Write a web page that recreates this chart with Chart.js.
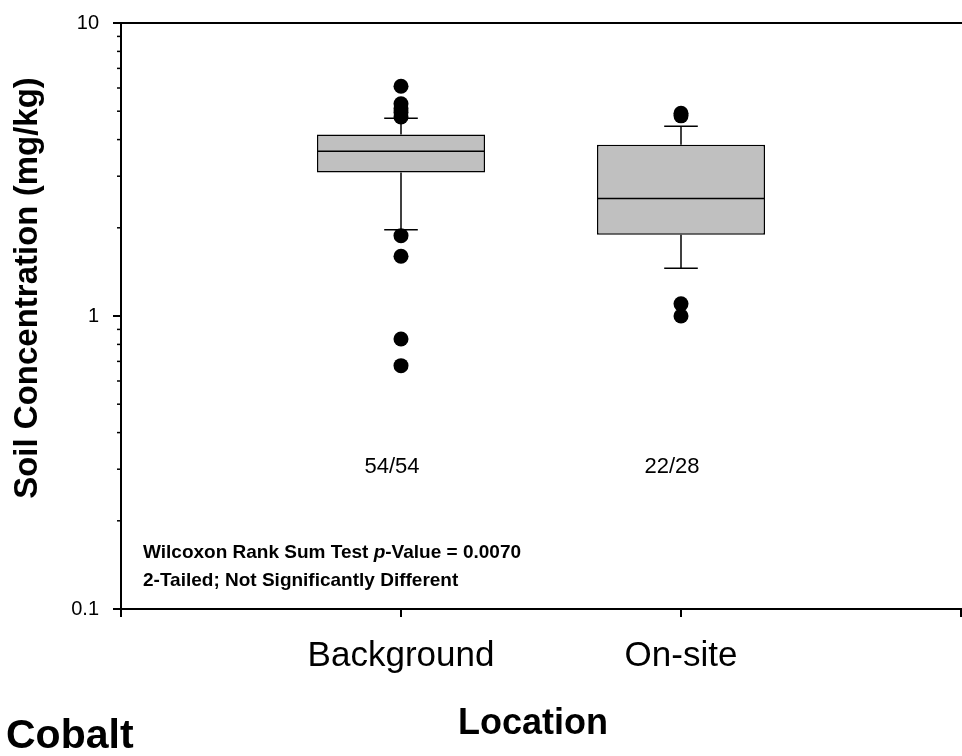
<!DOCTYPE html>
<html><head><meta charset="utf-8">
<script src="https://cdn.jsdelivr.net/npm/chart.js@4.4.1/dist/chart.umd.min.js"></script>
<style>html,body{margin:0;padding:0;background:#fff;}#wrap{width:962px;height:756px;}</style>
</head><body><div id="wrap"><canvas id="c" width="962" height="756"></canvas></div>
<script>
// ---- data ----
const categories = ['Background', 'On-site'];
const categoryX = [1, 2];
const q1 = [3.09, 1.895];
const medians = [3.65, 2.52];
const q3 = [4.16, 3.84];
const whiskerLow = [1.97, 1.454];
const whiskerHigh = [4.73, 4.44];
const outliersBackground = [6.08, 5.30, 5.10, 4.95, 4.78, 1.88, 1.60, 0.835, 0.677];
const outliersOnSite = [4.92, 4.82, 1.10, 1.00];
const detectLabels = ['54/54', '22/28'];
const yMajorTicks = [0.1, 1, 10];
const yMinorTicks = [0.2, 0.3, 0.4, 0.5, 0.6, 0.7, 0.8, 0.9, 2, 3, 4, 5, 6, 7, 8, 9];
const xTicks = [0, 1, 2, 3];
const annotationLines = [
  [{t: 'Wilcoxon Rank Sum Test ', i: false}, {t: 'p', i: true}, {t: '-Value = 0.0070', i: false}],
  [{t: '2-Tailed; Not Significantly Different', i: false}]
];

const FAM = '"Liberation Sans", Arial, sans-serif';

const outlierPoints = [];
outliersBackground.forEach(v => outlierPoints.push({x: categoryX[0], y: v}));
outliersOnSite.forEach(v => outlierPoints.push({x: categoryX[1], y: v}));

function noPad(s) { s.paddingTop = 0; s.paddingBottom = 0; s.paddingLeft = 0; s.paddingRight = 0; }

const boxPlugin = {
  id: 'boxExtras',
  beforeDatasetsDraw(chart) {
    const ctx = chart.ctx, xs = chart.scales.x, ys = chart.scales.y;
    ctx.save();
    ctx.strokeStyle = '#000';
    ctx.lineWidth = 1.5;
    categoryX.forEach((cx, i) => {
      const x = xs.getPixelForValue(cx);
      const capHalf = xs.getPixelForValue(cx + 0.06) - x;
      const lines = [
        [x, ys.getPixelForValue(q3[i]), x, ys.getPixelForValue(whiskerHigh[i])],
        [x, ys.getPixelForValue(q1[i]), x, ys.getPixelForValue(whiskerLow[i])],
        [x - capHalf, ys.getPixelForValue(whiskerHigh[i]), x + capHalf, ys.getPixelForValue(whiskerHigh[i])],
        [x - capHalf, ys.getPixelForValue(whiskerLow[i]), x + capHalf, ys.getPixelForValue(whiskerLow[i])]
      ];
      lines.forEach(l => { ctx.beginPath(); ctx.moveTo(l[0], l[1]); ctx.lineTo(l[2], l[3]); ctx.stroke(); });
    });
    ctx.restore();
  },
  afterDatasetsDraw(chart) {
    const ctx = chart.ctx, ys = chart.scales.y;
    const meta = chart.getDatasetMeta(0);
    ctx.save();
    ctx.strokeStyle = '#000';
    ctx.lineWidth = 1.5;
    meta.data.forEach((bar, i) => {
      const y = ys.getPixelForValue(medians[i]);
      ctx.beginPath();
      ctx.moveTo(bar.x - bar.width / 2, y);
      ctx.lineTo(bar.x + bar.width / 2, y);
      ctx.stroke();
    });
    const ax = chart.chartArea.left;
    const all = yMajorTicks.map(v => [v, 8, 2]).concat(yMinorTicks.map(v => [v, 4, 1.5]));
    all.forEach(([v, len, w]) => {
      const y = ys.getPixelForValue(v);
      ctx.lineWidth = w;
      ctx.beginPath();
      ctx.moveTo(ax - len, y);
      ctx.lineTo(ax, y);
      ctx.stroke();
    });
    ctx.restore();
  },
  afterDraw(chart) {
    const ctx = chart.ctx, xs = chart.scales.x;
    ctx.save();
    ctx.fillStyle = '#000';
    ctx.font = '22px ' + FAM;
    ctx.textAlign = 'center';
    ctx.textBaseline = 'alphabetic';
    detectLabels.forEach((t, i) => {
      ctx.fillText(t, xs.getPixelForValue(categoryX[i]) - 9, 473);
    });
    ctx.textAlign = 'left';
    const baselines = [558, 585.5];
    annotationLines.forEach((segs, li) => {
      let x = 143;
      segs.forEach(s => {
        ctx.font = (s.i ? 'italic ' : '') + 'bold 19px ' + FAM;
        ctx.fillText(s.t, x, baselines[li]);
        x += ctx.measureText(s.t).width;
      });
    });
    ctx.font = 'bold 36px ' + FAM;
    ctx.textAlign = 'center';
    ctx.fillText('Location', 533, 734);
    ctx.font = 'bold 41px ' + FAM;
    ctx.textAlign = 'left';
    ctx.fillText('Cobalt', 6, 748);
    ctx.translate(28, 288);
    ctx.rotate(-Math.PI / 2);
    ctx.font = 'bold 33px ' + FAM;
    ctx.textAlign = 'center';
    ctx.textBaseline = 'middle';
    ctx.fillText('Soil Concentration (mg/kg)', 0, 0);
    ctx.restore();
  }
};

new Chart(document.getElementById('c'), {
  type: 'bar',
  data: {
    datasets: [
      {
        type: 'bar',
        data: categoryX.map((x, i) => ({x: x, y: [q1[i], q3[i]]})),
        backgroundColor: '#c0c0c0',
        borderColor: '#000',
        borderWidth: 1.5,
        borderSkipped: false,
        barPercentage: 0.6,
        categoryPercentage: 1,
        order: 2
      },
      {
        type: 'scatter',
        data: outlierPoints,
        pointRadius: 7.5,
        pointHoverRadius: 7.5,
        backgroundColor: '#000',
        borderColor: '#000',
        borderWidth: 0,
        order: 1
      }
    ]
  },
  options: {
    responsive: false,
    devicePixelRatio: 1,
    animation: false,
    layout: {autoPadding: false, padding: {top: 23, right: 1, left: 0, bottom: 0}},
    plugins: {legend: {display: false}, tooltip: {enabled: false}},
    scales: {
      x: {
        type: 'linear', position: 'bottom', min: 0, max: 3, offset: false,
        afterBuildTicks: s => { s.ticks = xTicks.map(v => ({value: v})); },
        afterFit: s => { s.height = 147; noPad(s); },
        grid: {display: true, offset: false, drawOnChartArea: false, drawTicks: true, tickLength: 8, color: '#000', lineWidth: 2},
        border: {display: true, color: '#000', width: 2},
        ticks: {
          autoSkip: false, maxRotation: 0, minRotation: 0, padding: 18, color: '#000',
          font: {family: FAM, size: 35},
          callback: v => { const i = categoryX.indexOf(v); return i >= 0 ? categories[i] : ''; }
        }
      },
      xTop: {
        type: 'linear', position: 'top', min: 0, max: 3, display: true, offset: false,
        afterFit: s => { s.height = 0; noPad(s); },
        ticks: {display: false},
        grid: {display: false, drawTicks: false},
        border: {display: true, color: '#000', width: 2}
      },
      y: {
        type: 'logarithmic', position: 'left', min: 0.1, max: 10,
        afterBuildTicks: s => {
          s.ticks = yMinorTicks.concat(yMajorTicks).sort((a, b) => a - b).map(v => ({value: v, major: false}));
        },
        afterFit: s => { s.width = 121; noPad(s); },
        grid: {display: false, drawTicks: false},
        border: {display: true, color: '#000', width: 2},
        ticks: {
          autoSkip: false, padding: 22, color: '#000',
          font: {family: FAM, size: 20},
          callback: v => yMajorTicks.includes(v) ? String(v) : ''
        }
      }
    }
  },
  plugins: [boxPlugin]
});
</script>
</body></html>
